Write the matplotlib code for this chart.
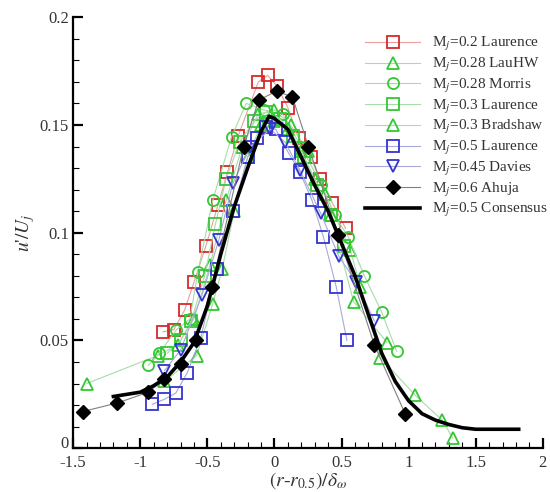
import numpy as np
import matplotlib
matplotlib.use('Agg')
import matplotlib.pyplot as plt
from matplotlib.ticker import MultipleLocator, FuncFormatter

plt.rcParams['font.family'] = ['Liberation Serif', 'DejaVu Serif']
plt.rcParams['mathtext.fontset'] = 'stix'

#%% Datos
x_lau02 = [-0.83, -0.75, -0.67, -0.60, -0.51, -0.42, -0.35, -0.27, -0.12, -0.05, 0.02, 0.10, 0.18, 0.27, 0.34, 0.43, 0.53]
y_lau02 = [0.054, 0.055, 0.064, 0.077, 0.094, 0.113, 0.128, 0.145, 0.170, 0.173, 0.168, 0.158, 0.144, 0.135, 0.125, 0.114, 0.102]

x_lauhw = [-1.40, -0.87, -0.72, -0.60, -0.48, -0.36, -0.24, -0.12, 0.0, 0.12, 0.25, 0.38, 0.565, 0.64, 0.79, 1.05, 1.25, 1.33]
y_lauhw = [0.030, 0.043, 0.048, 0.060, 0.085, 0.115, 0.140, 0.155, 0.157, 0.150, 0.138, 0.118, 0.092, 0.075, 0.042, 0.0245, 0.013, 0.0046]

x_morris = [-0.94, -0.86, -0.73, -0.63, -0.57, -0.46, -0.32, -0.21, -0.08, 0.06, 0.20, 0.35, 0.45, 0.55, 0.67, 0.80, 0.91]
y_morris = [0.0385, 0.044, 0.055, 0.060, 0.082, 0.115, 0.1445, 0.160, 0.157, 0.155, 0.140, 0.122, 0.108, 0.098, 0.080, 0.063, 0.045]

x_lau03 = [-0.80, -0.70, -0.62, -0.52, -0.44, -0.36, -0.26, -0.15, -0.06, 0.04, 0.14, 0.22, 0.32, 0.42, 0.52]
y_lau03 = [0.044, 0.050, 0.059, 0.080, 0.104, 0.125, 0.142, 0.152, 0.156, 0.153, 0.145, 0.135, 0.122, 0.108, 0.094]

x_brad = [-0.82, -0.58, -0.46, -0.39, -0.30, -0.20, -0.10, 0.0, 0.10, 0.20, 0.30, 0.42, 0.59, 0.84]
y_brad = [0.031, 0.043, 0.067, 0.083, 0.110, 0.135, 0.150, 0.152, 0.148, 0.138, 0.125, 0.108, 0.068, 0.049]

x_lau05 = [-0.91, -0.82, -0.735, -0.65, -0.55, -0.43, -0.31, -0.20, -0.13, -0.06, 0.01, 0.105, 0.19, 0.28, 0.365, 0.46, 0.54]
y_lau05 = [0.0204, 0.0227, 0.0256, 0.035, 0.051, 0.083, 0.110, 0.135, 0.144, 0.149, 0.148, 0.137, 0.128, 0.115, 0.098, 0.075, 0.050]

x_davies = [-0.82, -0.70, -0.54, -0.415, -0.31, -0.18, -0.03, 0.08, 0.19, 0.345, 0.48, 0.61, 0.745]
y_davies = [0.036, 0.0455, 0.071, 0.0965, 0.123, 0.140, 0.148, 0.142, 0.129, 0.109, 0.089, 0.077, 0.059]

x_ahuja = [-1.43, -1.17, -0.94, -0.82, -0.70, -0.586, -0.467, -0.23, -0.118, 0.016, 0.134, 0.253, 0.476, 0.744, 0.974]
y_ahuja = [0.017, 0.021, 0.026, 0.032, 0.039, 0.050, 0.075, 0.140, 0.1615, 0.1657, 0.163, 0.140, 0.099, 0.048, 0.016]

x_cons = [-1.2, -1.1, -1.0, -0.9, -0.8, -0.7, -0.6, -0.5, -0.4, -0.3, -0.2, -0.1, -0.04, 0.0, 0.1, 0.2, 0.3,
          0.4, 0.5, 0.6, 0.7, 0.8, 0.9, 1.0, 1.1, 1.2, 1.3, 1.4, 1.5, 1.6, 1.7, 1.82]
y_cons = [0.024, 0.025, 0.026, 0.029, 0.033, 0.040, 0.049, 0.066, 0.090, 0.112, 0.130, 0.147, 0.154, 0.153, 0.148, 0.135, 0.122,
          0.110, 0.095, 0.080, 0.062, 0.044, 0.031, 0.022, 0.016, 0.013, 0.011, 0.0095, 0.0088, 0.0088, 0.0088, 0.0088]

#%% Estilos
red = '#d42a2a'
green = '#33c833'
blue = '#3434d0'

fig = plt.figure(figsize=(5.5, 4.92), dpi=100)
ax = fig.add_axes([0.133, 0.089, 0.854, 0.876])

kw = dict(markersize=8, markerfacecolor='none', markeredgewidth=1.3, linewidth=0.8)
ax.plot(x_lau02, y_lau02, marker='s', color='#e8a0a0', markeredgecolor=red, label=r'M$_j$=0.2 Laurence', **kw)
ax.plot(x_lauhw, y_lauhw, marker='^', color='#a8dca8', markeredgecolor=green, label=r'M$_j$=0.28 LauHW', **kw)
ax.plot(x_morris, y_morris, marker='o', color='#a8dca8', markeredgecolor=green, label=r'M$_j$=0.28 Morris', **kw)
ax.plot(x_lau03, y_lau03, marker='s', color='#a8dca8', markeredgecolor=green, label=r'M$_j$=0.3 Laurence', **kw)
ax.plot(x_brad, y_brad, marker='^', color='#a8dca8', markeredgecolor=green, label=r'M$_j$=0.3 Bradshaw', **kw)
ax.plot(x_lau05, y_lau05, marker='s', color='#a8a8dc', markeredgecolor=blue, label=r'M$_j$=0.5 Laurence', **kw)
ax.plot(x_davies, y_davies, marker='v', color='#a8a8dc', markeredgecolor=blue, label=r'M$_j$=0.45 Davies', **kw)
ax.plot(x_ahuja, y_ahuja, marker='D', color='#808080', markerfacecolor='black', markeredgecolor='black',
        markersize=7.5, linewidth=0.8, label=r'M$_j$=0.6 Ahuja')
ax.plot(x_cons, y_cons, color='black', linewidth=2.6, label=r'M$_j$=0.5 Consensus')

ax.set_xlim(-1.5, 2)
ax.set_ylim(0, 0.2)
for s in ['top', 'right']:
    ax.spines[s].set_visible(False)
for s in ['left', 'bottom']:
    ax.spines[s].set_linewidth(1.6)

ax.xaxis.set_major_locator(MultipleLocator(0.5))
ax.xaxis.set_minor_locator(MultipleLocator(0.1))
ax.yaxis.set_major_locator(MultipleLocator(0.05))
ax.yaxis.set_minor_locator(MultipleLocator(0.01))
fmt = FuncFormatter(lambda v, p: '%g' % round(v, 3))
ax.xaxis.set_major_formatter(fmt)
ax.yaxis.set_major_formatter(fmt)
ax.tick_params(which='major', direction='in', length=7, width=1.6, labelsize=12, labelcolor='#333333')
ax.tick_params(axis='x', which='major', pad=5)
ax.tick_params(axis='y', which='major', pad=3)
ax.tick_params(which='minor', direction='in', length=4, width=0.8)

ax.set_xlabel(r'$(r$-$r_{0.5})/\delta_{\omega}$', fontsize=14, color='#333333', labelpad=-1)
ax.set_ylabel(r"$u$'$/U_j$", fontsize=14, color='#333333', labelpad=2)

ax.legend(loc='upper right', bbox_to_anchor=(1.04, 0.99), frameon=False, fontsize=11, handlelength=3.6,
          labelspacing=0.18, handletextpad=0.8, labelcolor='#333333')

# el "0" del eje y queda apenas por encima del eje, como en la figura original
fig.canvas.draw()
for lab in ax.get_yticklabels():
    if lab.get_text() == '0':
        lab.set_verticalalignment('baseline')

plt.savefig('out.png', dpi=100)
